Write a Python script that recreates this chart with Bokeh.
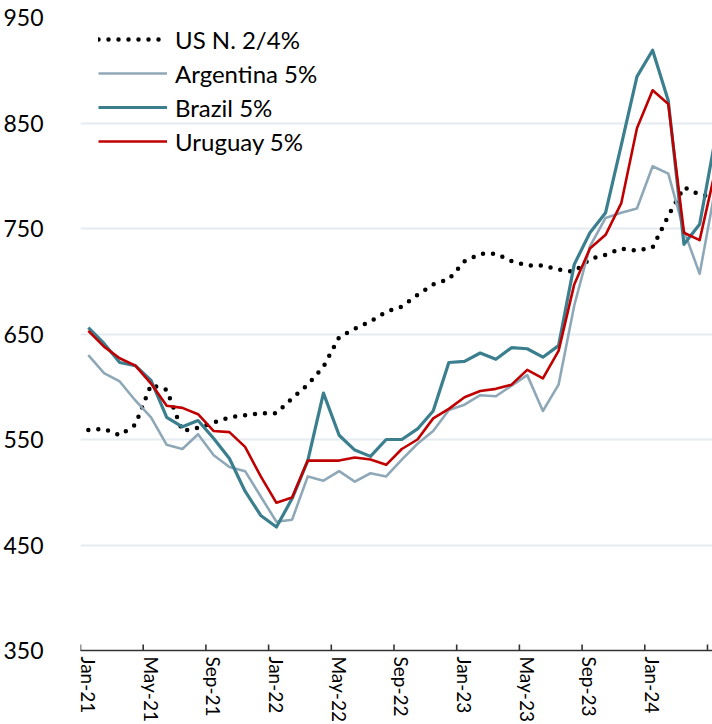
import math
from bokeh.plotting import figure
from bokeh.models import Range1d, FixedTicker, Legend, LegendItem
from bokeh.embed import file_html
from bokeh.resources import INLINE

# ---- data (monthly, Jan-21 .. May-24) ----
months = ["Jan-21", "Feb-21", "Mar-21", "Apr-21", "May-21", "Jun-21", "Jul-21", "Aug-21",
          "Sep-21", "Oct-21", "Nov-21", "Dec-21", "Jan-22", "Feb-22", "Mar-22", "Apr-22",
          "May-22", "Jun-22", "Jul-22", "Aug-22", "Sep-22", "Oct-22", "Nov-22", "Dec-22",
          "Jan-23", "Feb-23", "Mar-23", "Apr-23", "May-23", "Jun-23", "Jul-23", "Aug-23",
          "Sep-23", "Oct-23", "Nov-23", "Dec-23", "Jan-24", "Feb-24", "Mar-24", "Apr-24",
          "May-24"]

us_n2 = [559, 560, 554, 564, 602, 597, 558, 561, 566, 571, 573, 575, 575, 589, 602, 619,
         647, 655, 662, 671, 676, 687, 697, 702, 719, 726, 726, 719, 715, 715, 711, 709,
         721, 725, 731, 729, 732, 762, 789, 782, 780]
argentina = [630, 613, 605, 587, 571, 545, 541, 555, 535, 524, 520, 496, 472, 474, 515, 511,
             520, 510, 518, 515, 531, 546, 558, 578, 583, 592, 591, 601, 611, 577, 602, 677,
             733, 760, 765, 769, 809, 802, 748, 707, 788]
brazil = [656, 641, 623, 620, 606, 571, 562, 568, 551, 532, 501, 478, 467, 494, 530, 594,
          554, 540, 534, 550, 550, 560, 577, 623, 624, 632, 626, 637, 636, 628, 639, 716,
          746, 765, 829, 894, 919, 871, 735, 754, 835]
uruguay = [653, 638, 627, 620, 603, 582, 580, 574, 558, 557, 543, 515, 490, 495, 530, 530,
           530, 533, 531, 526, 541, 550, 570, 579, 590, 596, 598, 602, 616, 608, 634, 697,
           731, 744, 774, 845, 881, 868, 746, 739, 805]

series_names = ["US N. 2/4%", "Argentina 5%", "Brazil 5%", "Uruguay 5%"]
y_ticks = [350, 450, 550, 650, 750, 850, 950]
label_step = 4

idx = list(range(len(months)))
label_pos = idx[::label_step]
tick_labels = {i: months[i] for i in label_pos}
boundaries = [i - 0.5 for i in label_pos]   # category boundaries carry the tick marks

FONT = "Lato"
AXIS_COLOR = "#333333"

p = figure(width=712, height=724, output_backend="svg", toolbar_location=None,
           x_range=Range1d(-0.5, 39.82), y_range=Range1d(y_ticks[0], y_ticks[-1]),
           min_border_left=77, min_border_right=0, min_border_top=17, min_border_bottom=71)
p.outline_line_color = None
p.xgrid.grid_line_color = None

# y axis: labels only
p.yaxis.ticker = FixedTicker(ticks=y_ticks)
p.yaxis.axis_line_color = None
p.yaxis.major_tick_line_color = None
p.yaxis.minor_tick_line_color = None
p.yaxis.major_tick_out = 0
p.yaxis.major_tick_in = 0
p.yaxis.minor_tick_out = 0
p.yaxis.major_label_standoff = 37
p.yaxis.major_label_text_font = FONT
p.yaxis.major_label_text_font_size = "23px"
p.yaxis.major_label_text_color = "#000000"
p.ygrid.ticker = FixedTicker(ticks=y_ticks)
p.ygrid.grid_line_color = "#E6EBF0"
p.ygrid.grid_line_width = 2

# x axis: labels at category centres
xa = p.xaxis[0]
xa.ticker = FixedTicker(ticks=label_pos)
xa.major_label_overrides = tick_labels
xa.major_label_orientation = "vertical"
xa.major_tick_line_color = None
xa.minor_tick_line_color = None
xa.major_tick_out = 0
xa.major_tick_in = 0
xa.minor_tick_out = 0
xa.major_label_standoff = 6
xa.major_label_text_font = FONT
xa.major_label_text_font_size = "19px"
xa.major_label_text_color = "#000000"
xa.axis_line_color = AXIS_COLOR
xa.axis_line_width = 1.6

# tick marks at the category boundaries (inside the frame, clipped at the axis)
p.scatter(boundaries, [y_ticks[0]] * len(boundaries), marker="dash", angle=math.pi / 2,
          size=12, line_color=AXIS_COLOR, line_width=1.6)

r_us = p.line(idx, us_n2, line_color="black", line_width=4.5, line_dash="0 10",
              line_cap="round")
r_ar = p.line(idx, argentina, line_color="#8FA8B8", line_width=2.6, line_join="round")
r_br = p.line(idx, brazil, line_color="#3B7F8F", line_width=3.2, line_join="round")
r_uy = p.line(idx, uruguay, line_color="#C00000", line_width=2.6, line_join="round")

legend = Legend(items=[LegendItem(label=n, renderers=[r]) for n, r in
                       zip(series_names, [r_us, r_ar, r_br, r_uy])],
                location=(18, 492), glyph_width=69, glyph_height=34, label_height=34,
                spacing=0, padding=0, margin=0, label_standoff=8,
                label_text_font=FONT, label_text_font_size="24px",
                label_text_color="#000000", border_line_color=None,
                background_fill_alpha=0)
p.add_layout(legend)

open("out.html", "w").write(file_html(p, INLINE))
